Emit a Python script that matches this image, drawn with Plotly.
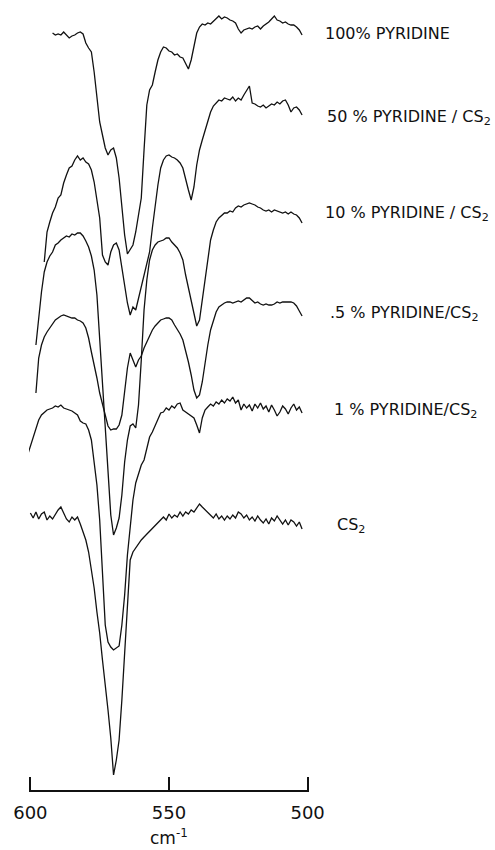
import plotly.graph_objects as go

# Wavenumber grid (cm^-1), shared by all spectra
wavenumber = list(range(601, 501, -1))

# Relative absorbance (arbitrary units, each spectrum vertically offset); None = not recorded
pyridine_100 = [None]*9 + [
    33, 35, 34, 35, 32, 35, 38, 36, 35, 33, 32, 34, 43, 48, 52, 72, 95, 122, 135, 148,
    155, 150, 148, 158, 178, 205, 235, 254, 250, 245, 232, 215, 198, 150, 105, 90, 85, 72, 60, 52,
    47, 48, 51, 52, 55, 54, 57, 58, 64, 69, 60, 45, 33, 27, 24, 25, 23, 24, 21, 18,
    16, 19, 17, 18, 20, 21, 23, 29, 33, 30, 29, 28, 29, 27, 26, 29, 26, 24, 22, 19,
    16, 20, 21, 23, 22, 24, 25, 25, 27, 30, 35]

pyridine_50 = [None]*6 + [
    262, 232, 222, 213, 207, 198, 195, 183, 175, 168, 166, 160, 156, 160, 158, 162, 164, 170, 182, 200,
    218, 255, 262, 265, 252, 245, 243, 250, 268, 287, 303, 315, 307, 310, 298, 288, 275, 265, 252, 228,
    205, 185, 168, 160, 156, 155, 157, 158, 160, 163, 168, 180, 190, 200, 187, 165, 150, 140, 130, 122,
    112, 106, 103, 100, 101, 98, 99, 100, 97, 101, 98, 100, 95, 90, 86, 103, 104, 106, 107, 105,
    108, 106, 104, 105, 102, 104, 101, 100, 105, 112, 108, 107, 110, 115]

pyridine_10 = [None]*3 + [
    345, 318, 292, 272, 262, 256, 252, 245, 243, 240, 238, 236, 237, 234, 235, 233, 233, 236, 241, 247,
    256, 270, 295, 340, 385, 430, 480, 515, 535, 528, 518, 495, 462, 440, 426, 424, 428, 405, 360, 310,
    280, 260, 250, 245, 242, 241, 240, 238, 238, 242, 245, 248, 253, 260, 275, 288, 300, 313, 326, 320,
    300, 280, 258, 240, 230, 222, 218, 215, 213, 213, 211, 212, 208, 206, 207, 205, 204, 203, 204, 205,
    207, 208, 210, 211, 210, 212, 210, 211, 212, 213, 212, 214, 212, 214, 215, 218, 223]

pyridine_05 = [None]*3 + [
    393, 358, 345, 337, 332, 328, 324, 320, 318, 316, 315, 316, 317, 318, 318, 320, 321, 323, 328, 338,
    352, 364, 378, 393, 405, 417, 426, 430, 429, 429, 425, 415, 392, 368, 353, 360, 367, 360, 356, 348,
    342, 335, 330, 326, 323, 320, 319, 318, 318, 320, 325, 329, 334, 340, 350, 362, 375, 390, 398, 395,
    382, 362, 345, 330, 320, 312, 307, 305, 303, 302, 302, 303, 302, 301, 302, 300, 298, 298, 301, 303,
    302, 304, 305, 304, 305, 305, 304, 302, 303, 302, 302, 302, 302, 303, 306, 311, 316]

pyridine_1 = [
    455, 446, 437, 428, 420, 415, 412, 410, 409, 408, 406, 407, 405, 408, 409, 410, 411, 413, 415, 421,
    423, 424, 430, 440, 460, 485, 520, 580, 625, 642, 647, 650, 648, 646, 625, 595, 555, 525, 500, 483,
    475, 465, 460, 448, 437, 432, 425, 420, 413, 412, 408, 410, 406, 408, 404, 403, 410, 412, 414, 416,
    418, 425, 433, 418, 410, 407, 404, 406, 402, 404, 400, 403, 399, 401, 397, 403, 400, 410, 404, 408,
    405, 411, 404, 408, 403, 409, 406, 412, 405, 410, 416, 412, 406, 409, 414, 408, 404, 410, 407, 413]

cs2 = [None] + [
    513, 518, 512, 519, 514, 512, 520, 516, 519, 514, 510, 507, 514, 519, 522, 517, 520, 517, 524, 532,
    540, 552, 570, 588, 612, 633, 660, 683, 710, 738, 775, 760, 740, 700, 650, 600, 560, 552, 548, 543,
    540, 537, 534, 532, 528, 526, 523, 519, 517, 520, 514, 518, 515, 517, 512, 516, 512, 514, 510, 512,
    508, 504, 507, 510, 512, 515, 518, 514, 519, 516, 520, 516, 519, 515, 518, 512, 514, 518, 515, 520,
    517, 521, 516, 520, 523, 519, 524, 518, 521, 516, 520, 524, 520, 525, 520, 522, 526, 522, 529]

series = [pyridine_100, pyridine_50, pyridine_10, pyridine_05, pyridine_1, cs2]
labels = ["100% PYRIDINE", "50 % PYRIDINE / CS<sub>2</sub>", "10 % PYRIDINE / CS<sub>2</sub>",
          ".5 % PYRIDINE/CS<sub>2</sub>", "1 % PYRIDINE/CS<sub>2</sub>", "CS<sub>2</sub>"]
label_level = [33, 117, 213, 313, 410, 525]
label_x = [1.050, 1.057, 1.050, 1.068, 1.082, 1.093]
tick_values = [600, 550, 500]

FONT = "DejaVu Sans"
fig = go.Figure()
for s in series:
    fig.add_trace(go.Scatter(x=wavenumber, y=s, mode="lines",
                             line=dict(color="#111111", width=1.3),
                             connectgaps=False, showlegend=False, hoverinfo="skip"))

for txt, lv, lx in zip(labels, label_level, label_x):
    fig.add_annotation(text=txt, x=lx, xref="paper", y=lv, yref="y",
                       xanchor="left", yanchor="middle", showarrow=False,
                       font=dict(family=FONT, size=16, color="#111111"))

fig.add_annotation(text="cm<sup>-1</sup>", x=550, xref="x", y=-0.06, yref="paper",
                   xanchor="center", yanchor="middle", showarrow=False,
                   font=dict(family=FONT, size=17, color="#111111"))

fig.update_layout(
    width=495, height=850,
    margin=dict(l=29, r=186, t=0, b=60),
    paper_bgcolor="white", plot_bgcolor="white",
    xaxis=dict(range=[600.5, 499.5], tickvals=tick_values, ticks="inside", ticklen=13,
               tickwidth=1.5, tickcolor="#111111", showline=True, linewidth=1.5,
               linecolor="#111111", showgrid=False, zeroline=False,
               tickfont=dict(family=FONT, size=18, color="#111111"),
               ticklabelstandoff=6),
    yaxis=dict(range=[790, 0], visible=False, showgrid=False, zeroline=False),
)

fig.write_html("out.html")
